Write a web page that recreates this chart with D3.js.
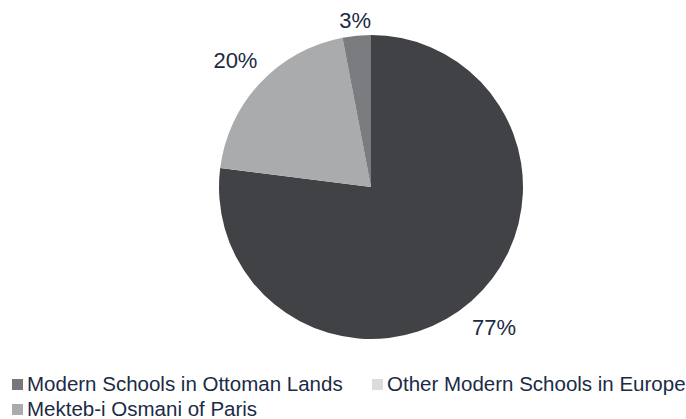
<!DOCTYPE html>
<html>
<head>
<meta charset="utf-8">
<script src="https://d3js.org/d3.v7.min.js"></script>
<style>body{margin:0;background:#fff;}</style>
</head>
<body>
<div id="chart"></div>
<script>
var categories = ["Modern Schools in Ottoman Lands", "Mekteb-i Osmani of Paris", "Other Modern Schools in Europe"];
var values = [77, 20, 3];
var labels = ["77%", "20%", "3%"];
var sliceColors = ["#404245", "#aaabad", "#7a7c7f"];
var legendItems = ["Modern Schools in Ottoman Lands", "Other Modern Schools in Europe", "Mekteb-i Osmani of Paris"];
var legendColors = ["#77787b", "#dcdcdd", "#aaabad"];

var w = 686, h = 419;
var svg = d3.select("#chart").append("svg").attr("width", w).attr("height", h);

var cx = 371, cy = 187, r = 152;
var pie = d3.pie().sort(null).value(function(d){ return d; });
var arc = d3.arc().innerRadius(0).outerRadius(r);
// small slices get their label closer in
function labelPos(d){
  var rr = (d.endAngle - d.startAngle) < 0.3 ? 168 : 186;
  return d3.arc().innerRadius(rr).outerRadius(rr).centroid(d);
}

var g = svg.append("g").attr("transform", "translate(" + cx + "," + cy + ")");
var arcs = pie(values);

g.selectAll("path").data(arcs).enter().append("path")
  .attr("d", arc)
  .style("fill", function(d, i){ return sliceColors[i]; });

g.selectAll("text").data(arcs).enter().append("text")
  .attr("transform", function(d){ var c = labelPos(d); return "translate(" + c[0] + "," + (c[1] + 8) + ")"; })
  .attr("text-anchor", "middle")
  .style("font-family", "Liberation Sans, Arial, sans-serif").style("font-size", "22px")
  .style("fill", "#1b2b45")
  .text(function(d, i){ return labels[i]; });

var legendPos = [[12, 391], [372, 391], [12, 416]];
var lg = svg.selectAll("g.leg").data(legendItems).enter().append("g").attr("class", "leg")
  .attr("transform", function(d, i){ return "translate(" + legendPos[i][0] + "," + legendPos[i][1] + ")"; });
lg.append("rect").attr("x", 0).attr("y", -12).attr("width", 11).attr("height", 11)
  .style("fill", function(d, i){ return legendColors[i]; });
lg.append("text").attr("x", 15).attr("y", 0)
  .style("font-family", "Liberation Sans, Arial, sans-serif").style("font-size", "20.5px")
  .style("fill", "#1b2b45")
  .text(function(d){ return d; });
</script>
</body>
</html>
